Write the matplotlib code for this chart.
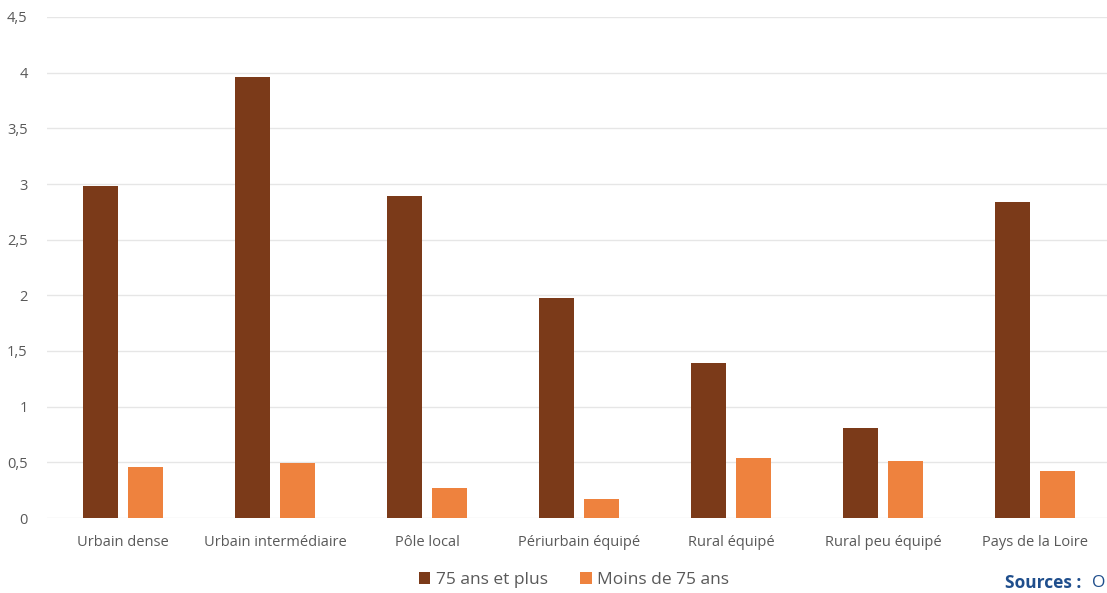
import numpy as np
import matplotlib.pyplot as plt

categories = ["Urbain dense", "Urbain intermédiaire", "Pôle local", "Périurbain équipé",
              "Rural équipé", "Rural peu équipé", "Pays de la Loire"]
plus_75 = [2.98, 3.96, 2.89, 1.98, 1.39, 0.81, 2.84]
moins_75 = [0.46, 0.49, 0.27, 0.17, 0.54, 0.51, 0.42]
y_ticks = [0, 0.5, 1, 1.5, 2, 2.5, 3, 3.5, 4, 4.5]
y_labels = ["0", "0,5", "1", "1,5", "2", "2,5", "3", "3,5", "4", "4,5"]

plt.rcParams['font.family'] = ['Open Sans', 'DejaVu Sans']

fig = plt.figure(figsize=(11.07, 5.93), dpi=100)
ax = fig.add_axes([47/1107, 1-518/593, 1060/1107, (518-17)/593])

x = np.arange(len(categories))
w = 0.23
off = 0.145
ax.bar(x - off, plus_75, w, color='#7B3A19', label='75 ans et plus', zorder=3)
ax.bar(x + off, moins_75, w, color='#EE823E', label='Moins de 75 ans', zorder=3)

ax.set_xlim(-0.5, -0.5 + 1060/152)
ax.set_ylim(0, 4.5)
ax.set_yticks(y_ticks)
ax.set_yticklabels(y_labels)
ax.set_xticks(x)
ax.set_xticklabels(categories)
ax.tick_params(axis='both', length=0, colors='#595959', labelsize=10.5)
ax.tick_params(axis='y', pad=14)
ax.tick_params(axis='x', pad=12)
ax.grid(axis='y', color='#E6E6E6', linewidth=1, zorder=0)
for s in ax.spines.values():
    s.set_visible(False)

fig.legend(loc='center', bbox_to_anchor=(574/1107, 1-580/593), ncol=2, frameon=False,
           fontsize=12.5, handlelength=0.65, handleheight=0.65, handletextpad=0.3,
           columnspacing=1.9, labelcolor='#595959')

fig.text(1005/1107, 1-583/593, "Sources :", color='#1F4E8C', fontsize=12.5, fontweight='bold',
         ha='left', va='center')
fig.text(1092/1107, 1-583/593, "O", color='#1F4E8C', fontsize=12.5, ha='left', va='center')

fig.savefig('out.png', dpi=100)
